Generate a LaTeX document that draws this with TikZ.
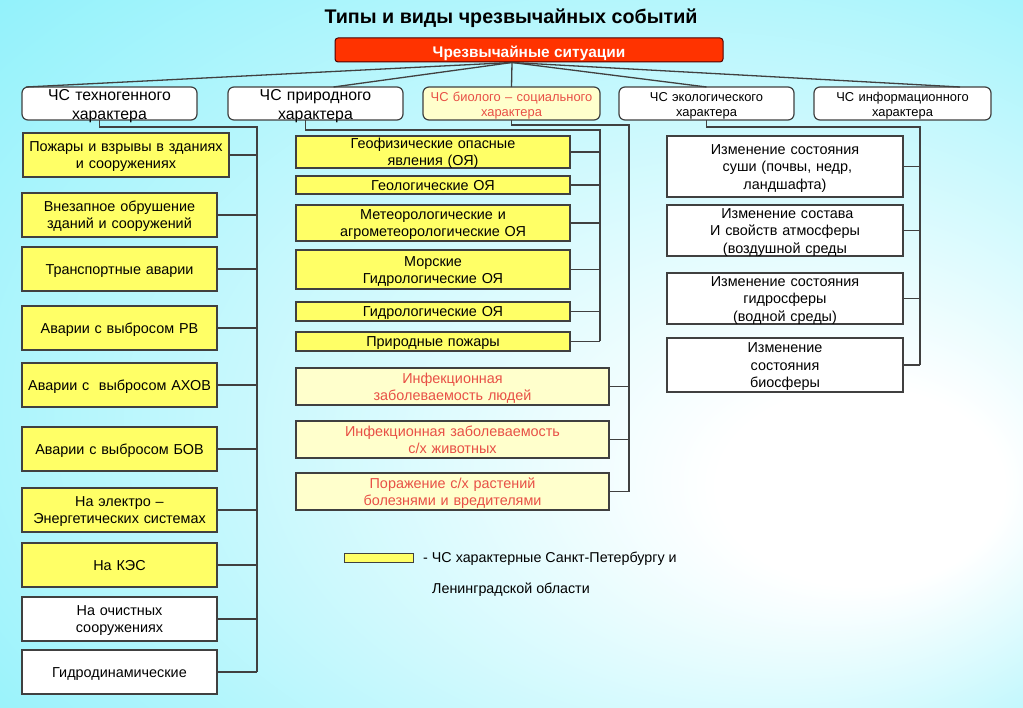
\documentclass[tikz,border=0pt]{standalone}
\usepackage{fontspec}
\setmainfont{Liberation Sans}
\usepackage{xcolor}
\usepackage{tikz}
\usetikzlibrary{positioning}

\definecolor{bgcyan}{RGB}{118,238,250}
\definecolor{ylw}{RGB}{255,255,102}
\definecolor{paleylw}{RGB}{255,255,204}
\definecolor{csred}{RGB}{255,51,0}
\definecolor{biored}{RGB}{232,80,70}
\definecolor{edgegray}{RGB}{64,64,64}

\pgfdeclareradialshading{glow}{\pgfpoint{20bp}{-11bp}}{color(0bp)=(white); color(7bp)=(white); color(48bp)=(bgcyan)}

\begin{document}
\begin{tikzpicture}[
    x=1pt, y=-1pt,
    node distance = 10pt and 18pt,
    ln1/.style = {text height=12pt, text depth=1.4pt},
    ln2/.style = {text height=12pt, text depth=18.7pt},
    ln3/.style = {text height=12pt, text depth=36pt},
    box/.style  = {draw=edgegray, line width=1.2pt, fill=ylw, align=center,
                   inner sep=0pt, outer sep=0pt, ln1,
                   font=\fontsize{14.4}{17.3}\selectfont},
    tbox/.style = {box, text width=195pt, minimum height=44pt},
    nbox/.style = {box, text width=274pt},
    bbox/.style = {box, ln2, fill=paleylw, text=biored, text width=313pt,
                   minimum height=37pt},
    ebox/.style = {box, ln3, fill=white, text width=236pt},
    head/.style = {draw=edgegray, line width=1.2pt, fill=white, rounded corners=6pt,
                   align=center, inner sep=0pt, outer sep=0pt, text width=175pt,
                   minimum height=33pt, text height=13.5pt, text depth=19.5pt,
                   font=\fontsize{15.8}{19}\selectfont},
    small/.style = {font=\fontsize{12.9}{15}\selectfont, text height=12pt, text depth=15pt},
    link/.style = {draw=edgegray, line width=1.3pt},
                            ]
    \shade[shading=glow] (0,0) rectangle (1023,708);
    \useasboundingbox (0,0) rectangle (1023,708);

    \node (title) at (511,18.5) {\fontsize{19.7}{22}\selectfont\bfseries Типы и виды чрезвычайных событий};
    \node (cs) [draw=black!70!red, line width=1pt, fill=csred, rounded corners=3pt,
                minimum width=388pt, minimum height=24pt, text=white,
                inner sep=0pt, text height=15pt, text depth=0.4pt,
                font=\fontsize{15.4}{17}\selectfont\bfseries] at (529,50) {Чрезвычайные ситуации};

    % kinds of emergencies
    \node (tech) [head]                  at (109.5,103.5) {ЧС техногенного\\характера};
    \node (nat)  [head, right=31pt of tech] {ЧС природного\\характера};
    \node (bio)  [head, small, text width=177pt, fill=paleylw, text=biored,
                  right=20pt of nat]     {ЧС биолого -- социального\\характера};
    \node (eco)  [head, small, right=19pt of bio] {ЧС экологического\\характера};
    \node (info) [head, small, text width=177pt, right=20pt of eco] {ЧС информационного\\характера};

    % man-made
    \node (t1)  [tbox, ln2, text width=206pt, anchor=north west] at (23,133) {Пожары и взрывы в зданиях\\и сооружениях};
    \node (t2)  [tbox, ln2, anchor=north west] at (22,193) {Внезапное обрушение\\зданий и сооружений};
    \node (t3)  [tbox, below=10pt of t2] {Транспортные аварии};
    \node (t4)  [tbox, below=15pt of t3] {Аварии с выбросом РВ};
    \node (t5)  [tbox, below=13pt of t4] {Аварии с \ выбросом АХОВ};
    \node (t6)  [tbox, below=20pt of t5] {Аварии с выбросом БОВ};
    \node (t7)  [tbox, ln2, below=17pt of t6] {На электро --\\Энергетических системах};
    \node (t8)  [tbox, below=11pt of t7] {На КЭС};
    \node (t9)  [tbox, ln2, fill=white, below=10pt of t8] {На очистных\\сооружениях};
    \node (t10) [tbox, fill=white, below=9pt of t9]  {Гидродинамические};

    % natural
    \node (n1) [nbox, ln2, minimum height=32pt, anchor=north west] at (296,136) {Геофизические опасные\\явления (ОЯ)};
    \node (n2) [nbox, minimum height=18pt, below=8pt of n1]  {Геологические ОЯ};
    \node (n3) [nbox, ln2, minimum height=36pt, below=11pt of n2] {Метеорологические и\\агрометеорологические ОЯ};
    \node (n4) [nbox, ln2, minimum height=39pt, below=9pt of n3]  {Морские\\Гидрологические ОЯ};
    \node (n5) [nbox, minimum height=19pt, below=13pt of n4] {Гидрологические ОЯ};
    \node (n6) [nbox, minimum height=19pt, below=11pt of n5] {Природные пожары};

    % bio-social
    \node (b1) [bbox, anchor=north west] at (296,368) {Инфекционная\\заболеваемость людей};
    \node (b2) [bbox, below=16pt of b1] {Инфекционная заболеваемость\\с/х животных};
    \node (b3) [bbox, below=15pt of b2] {Поражение с/х растений\\болезнями и вредителями};

    % ecological
    \node (e1) [ebox, minimum height=61pt, anchor=north west] at (667,136) {Изменение состояния\\\ суши (почвы, недр,\\ландшафта)};
    \node (e2) [ebox, minimum height=51pt, below=8pt of e1]  {\ Изменение состава\\И свойств атмосферы\\(воздушной среды};
    \node (e3) [ebox, minimum height=51pt, below=17pt of e2] {Изменение состояния\\гидросферы\\(водной среды)};
    \node (e4) [ebox, minimum height=54pt, below=14pt of e3] {Изменение\\состояния\\биосферы};

    % legend
    \node (key) [draw=edgegray, line width=1pt, fill=ylw, minimum width=69pt,
                 minimum height=9pt, inner sep=0pt, outer sep=0pt, anchor=north west] at (344,553) {};
    \node (keytext)  [right=10pt of key, inner sep=0pt, ln1, font=\fontsize{14.3}{16}\selectfont]
                     {- ЧС характерные Санкт-Петербургу и};
    \node (keytext2) [anchor=west, inner sep=0pt, ln1, font=\fontsize{14.3}{16}\selectfont]
                     at (432,588) {Ленинградской области};

    % fan from the top box
    \coordinate (fan) at ([xshift=-17pt]cs.south);
    \draw[link] (fan) -- ([xshift=4pt]tech.north west);
    \draw[link] (fan) -- ([xshift=18pt]nat.north);
    \draw[link] (fan) -- (bio.north);
    \draw[link] (fan) -- (eco.north);
    \draw[link] (fan) -- ([xshift=-31pt]info.north east);

    % buses
    \coordinate (tb) at (257,127);
    \coordinate (nb) at (600,130);
    \coordinate (bb) at (629,125);
    \coordinate (eb) at (920,127);
    \draw[link] ([xshift=-10pt]tech.south) |- (tb) -- (tb |- t10.east);
    \draw[link] ([xshift=-10pt]nat.south)  |- (nb) -- (nb |- n6.east);
    \draw[link] (bio.south)                |- (bb) -- (bb |- b3.east);
    \draw[link] (eco.south)                |- (eb) -- (eb |- e4.east);
    \foreach \s in {t1,t2,t3,t4,t5,t6,t7,t8,t9,t10}
        \draw[link] (\s.east) -- (\s.east -| tb);
    \foreach \s in {n1,n2,n3,n4,n5,n6}
        \draw[link] (\s.east) -- (\s.east -| nb);
    \foreach \s in {b1,b2,b3}
        \draw[link] (\s.east) -- (\s.east -| bb);
    \foreach \s in {e1,e2,e3,e4}
        \draw[link] (\s.east) -- (\s.east -| eb);
\end{tikzpicture}
\end{document}
